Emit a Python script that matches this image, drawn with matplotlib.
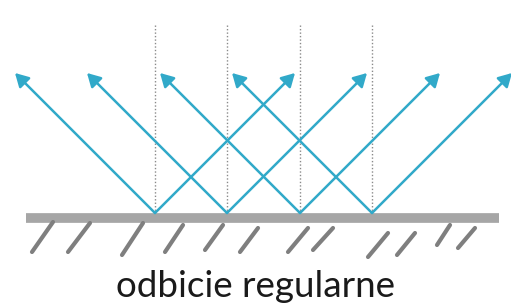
import matplotlib.pyplot as plt

# reflection points on the mirror (pixel coords, y down)
hit_x = [155, 227, 300, 372]
surface_y = 213
ray_height = 140

# hatch strokes under the mirror: (x_bottom, y_bottom, x_top, y_top)
hatch_x0 = [32, 68, 122, 165, 205, 240, 288, 313, 368, 397, 437, 458]
hatch_y0 = [252, 252, 255, 252, 250, 252, 252, 250, 257, 255, 245, 248]
hatch_x1 = [53, 90, 143, 183, 223, 258, 308, 333, 388, 415, 450, 475]
hatch_y1 = [222, 223, 223, 225, 225, 228, 228, 228, 233, 233, 225, 228]

label = 'odbicie regularne'

fig = plt.figure(figsize=(5.11, 3.05), dpi=100)
ax = fig.add_axes([0, 0, 1, 1])
ax.set_xlim(0, 511)
ax.set_ylim(305, 0)
ax.axis('off')

blue = '#31a9c9'

# dotted normals
for x in hit_x:
    ax.plot([x, x], [25, surface_y], color='#8a8a8a', lw=1, ls=(0, (1, 1.5)), zorder=1)

# rays with arrowheads at both ends
for x in hit_x:
    for d in (-1, 1):
        ax.annotate('', xy=(x + d * ray_height, surface_y - ray_height),
                    xytext=(x, surface_y),
                    arrowprops=dict(arrowstyle='-|>,head_length=0.8,head_width=0.45',
                                    color=blue, lw=1.8, shrinkA=0, shrinkB=0),
                    zorder=3, annotation_clip=False)

# mirror surface
ax.plot([26, 499], [218, 218], color='#a6a6a6', lw=7, solid_capstyle='butt', zorder=2)

# hatch strokes
for xa, ya, xb, yb in zip(hatch_x0, hatch_y0, hatch_x1, hatch_y1):
    ax.plot([xa, xb], [ya, yb], color='#7f7f7f', lw=3, solid_capstyle='round', zorder=2)

ax.text(255, 297, label, ha='center', va='baseline', fontsize=26.5,
        family='Lato', color='#1a1a1a')

fig.savefig('out.png', dpi=100)
